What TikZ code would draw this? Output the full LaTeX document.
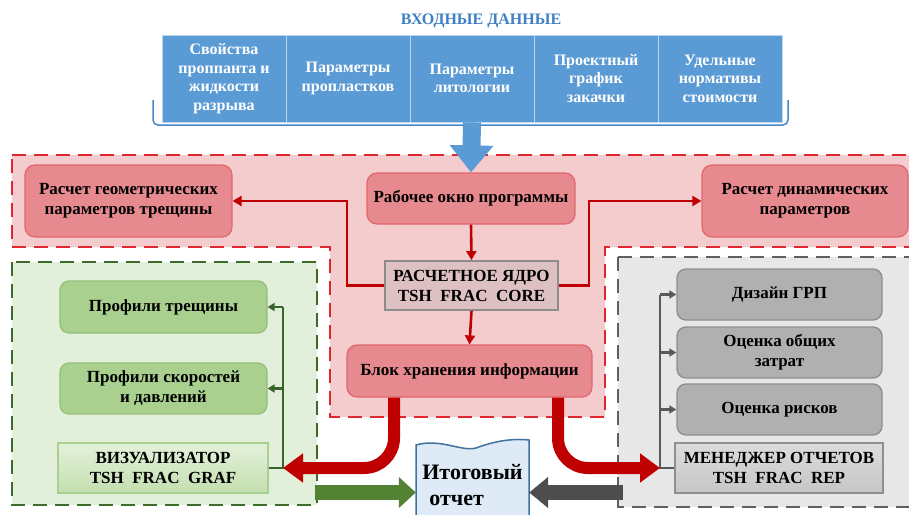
\documentclass[tikz,border=0pt]{standalone}
\usepackage{fontspec}
\setmainfont{Liberation Serif}
\usetikzlibrary{arrows.meta}
\definecolor{blueF}{HTML}{5B9BD5}
\definecolor{blueT}{HTML}{3F7FC4}
\definecolor{braceB}{HTML}{4A86C8}
\definecolor{regR}{HTML}{F4CCCE}
\definecolor{dashR}{HTML}{E0262E}
\definecolor{boxR}{HTML}{E68A8F}
\definecolor{boxRd}{HTML}{E2666C}
\definecolor{lineR}{HTML}{C00000}
\definecolor{coreF}{HTML}{DCC0C2}
\definecolor{coreD}{HTML}{8C8C8C}
\definecolor{regG}{HTML}{E2EFDA}
\definecolor{dashG}{HTML}{3D6B2A}
\definecolor{boxG}{HTML}{A9D08E}
\definecolor{boxGd}{HTML}{93BF78}
\definecolor{visT}{HTML}{E4F1DB}
\definecolor{visB}{HTML}{C3DFB0}
\definecolor{lineG}{HTML}{38652A}
\definecolor{arrG}{HTML}{548235}
\definecolor{regK}{HTML}{E7E7E7}
\definecolor{dashK}{HTML}{5F5F5F}
\definecolor{boxK}{HTML}{B0B0B0}
\definecolor{boxKd}{HTML}{8F8F8F}
\definecolor{mgrT}{HTML}{DCDCDC}
\definecolor{mgrB}{HTML}{C6C6C6}
\definecolor{lineK}{HTML}{595959}
\definecolor{arrK}{HTML}{4D4D4D}
\definecolor{docF}{HTML}{DEEBF7}
\definecolor{docD}{HTML}{41719C}
\newcommand\boxfont{\fontsize{17}{20}\selectfont\bfseries}
\newcommand\infont{\fontsize{16}{18.5}\selectfont\bfseries}
\begin{document}
\begin{tikzpicture}[x=1pt,y=-1pt,
  inbox/.style={draw=white!60!blueF, line width=0.8pt, fill=blueF, text=white, font=\infont, align=center, inner sep=0pt, minimum width=124pt, minimum height=87pt},
  rbox/.style={draw=boxRd, line width=1.2pt, fill=boxR, rounded corners=10pt, align=center, font=\boxfont, inner sep=0pt},
  corebox/.style={draw=coreD, line width=1.8pt, fill=coreF, align=center, font=\boxfont, inner sep=0pt},
  gbox/.style={draw=boxGd, line width=1.2pt, fill=boxG, rounded corners=9pt, align=center, font=\boxfont, inner sep=0pt, minimum width=207pt},
  visbox/.style={draw=boxG, line width=1.6pt, top color=visT, bottom color=visB, align=center, font=\boxfont, inner sep=0pt},
  kbox/.style={draw=boxKd, line width=1.4pt, fill=boxK, rounded corners=9pt, align=center, font=\boxfont, inner sep=0pt, minimum width=205pt, minimum height=51pt},
  mgrbox/.style={draw=boxKd, line width=1.8pt, top color=mgrT, bottom color=mgrB, align=center, font=\boxfont, inner sep=0pt},
  regionR/.style={draw=dashR, line width=2.4pt, dash pattern=on 14pt off 8pt, fill=regR},
  regionG/.style={draw=dashG, line width=2.4pt, dash pattern=on 14pt off 8pt, fill=regG},
  regionK/.style={draw=dashK, line width=2.4pt, dash pattern=on 14pt off 8pt, fill=regK},
  redln/.style={draw=lineR, line width=2.6pt},
  redarr/.style={redln, -{Triangle[width=10pt,length=9pt]}},
  grnln/.style={draw=lineG, line width=2.2pt},
  grnarr/.style={grnln, -{Triangle[width=8pt,length=7pt]}},
  gryln/.style={draw=lineK, line width=2.4pt},
  gryarr/.style={gryln, -{Triangle[width=8pt,length=7pt]}},
  bigred/.style={draw=lineR, line width=12pt, rounded corners=30pt, -{Triangle[width=28pt,length=20pt]}},
  biggrn/.style={draw=arrG, line width=15pt, -{Triangle[width=30pt,length=17pt]}},
  bigk/.style={draw=arrK, line width=15pt, -{Triangle[width=30pt,length=19pt]}}
]
\useasboundingbox (0,0) rectangle (909,514);
\clip (0,0) rectangle (909,514);
\fill[white] (0,0) rectangle (909,514);

% regions
\path[regionR] (12,155) -- (925,155) -- (925,247) -- (605,247) -- (605,417) -- (330,417) -- (330,247) -- (12,247) -- cycle;
\path[regionG] (12,262) rectangle (317,505);
\path[regionK] (618,257) -- (925,257) -- (925,507) -- (618,507) -- cycle;

% input data
\node[text=blueT, font=\fontsize{16}{18}\selectfont\bfseries] (title) at (481,21) {ВХОДНЫЕ ДАННЫЕ};
\draw[braceB, line width=1.5pt, rounded corners=5pt] (153,100) -- (153,125) -- (788,125) -- (788,100);
\node[inbox] (in1) at (224,78.5) {Свойства\\проппанта и\\жидкости\\разрыва};
\node[inbox] (in2) at (348,78.5) {Параметры\\пропластков};
\node[inbox] (in3) at (472,78.5) {Параметры\\литологии};
\node[inbox] (in4) at (596,78.5) {Проектный\\график\\закачки};
\node[inbox] (in5) at (720,78.5) {Удельные\\нормативы\\стоимости};

% red block
\node[rbox, minimum width=207pt, minimum height=72pt] (geo) at (128.5,201) {Расчет геометрических\\параметров трещины};
\node[rbox, minimum width=208pt, minimum height=51pt] (work) at (471,198.5) {Рабочее окно программы};
\node[corebox, minimum width=173pt, minimum height=49pt] (core) at (471.5,285.5) {РАСЧЕТНОЕ ЯДРО\\TSH\ \ FRAC\ \ CORE};
\node[rbox, minimum width=245pt, minimum height=52pt] (blok) at (469.5,371) {Блок хранения информации};
\node[rbox, minimum width=206pt, minimum height=72pt] (dyn) at (805,201) {Расчет динамических\\параметров};

\draw[blueF, line width=18pt, -{Triangle[width=42pt,length=27pt]}] (in3.south) -- (work.north);

\draw[redarr] (work.south) -- (core.north);
\draw[redarr] (core.south) -- (blok.north);
\draw[redarr] (core.west) -- ++(-37,0) |- (geo.east);
\draw[redarr] (core.east) -- ++(30,0) |- (dyn.west);

% green block
\node[gbox, minimum height=52pt] (prof1) at (163.5,307) {Профили трещины};
\node[gbox, minimum height=51pt] (prof2) at (163.5,388.5) {Профили скоростей\\и давлений};
\node[visbox, minimum width=210pt, minimum height=50pt] (vis) at (163,468) {ВИЗУАЛИЗАТОР\\TSH\ \ FRAC\ \ GRAF};
\coordinate (gtop) at (283,307);
\coordinate (gj) at (vis.east -| gtop);
\draw[grnln] (vis.east) -- (gj) -- (gtop);
\draw[grnarr] (gtop) -- (prof1.east);
\draw[grnarr] (prof2.east -| gtop) -- (prof2.east);

% gray block
\node[kbox] (diz) at (779.5,294.5) {Дизайн ГРП};
\node[kbox] (cost) at (779.5,352.5) {Оценка общих\\затрат};
\node[kbox] (risk) at (779.5,409.5) {Оценка рисков};
\node[mgrbox, minimum width=208pt, minimum height=50pt] (mgr) at (779,468) {МЕНЕДЖЕР ОТЧЕТОВ\\TSH\ \ FRAC\ \ REP};
\coordinate (ktop) at (660,294.5);
\coordinate (kj) at (mgr.west -| ktop);
\draw[gryln] (mgr.west) -- (kj) -- (ktop);
\draw[gryarr] (ktop) -- (diz.west);
\draw[gryarr] (cost.west -| ktop) -- (cost.west);
\draw[gryarr] (risk.west -| ktop) -- (risk.west);

% document
\draw[docD, fill=docF, line width=1.5pt] (416,530) -- (416,445)
  .. controls (440,438) and (462,452) .. (476,448)
  .. controls (492,442) and (510,438) .. (529,440) -- (529,530);
\node[font=\fontsize{22}{26}\selectfont\bfseries, align=left, inner sep=0pt, minimum width=113pt, minimum height=70pt] (doc) at (472.5,485) {Итоговый\\\hspace*{7pt}отчет};

% thick arrows
\draw[bigred] ([xshift=-75.5pt]blok.south) |- (gj);
\draw[bigred] ([xshift=88.5pt]blok.south) |- (kj);
\coordinate (ga) at (315,492.5);
\coordinate (ka) at (623,492.5);
\draw[biggrn] (ga) -- (doc.west |- ga);
\draw[bigk] (ka) -- (doc.east |- ka);
\end{tikzpicture}
\end{document}
